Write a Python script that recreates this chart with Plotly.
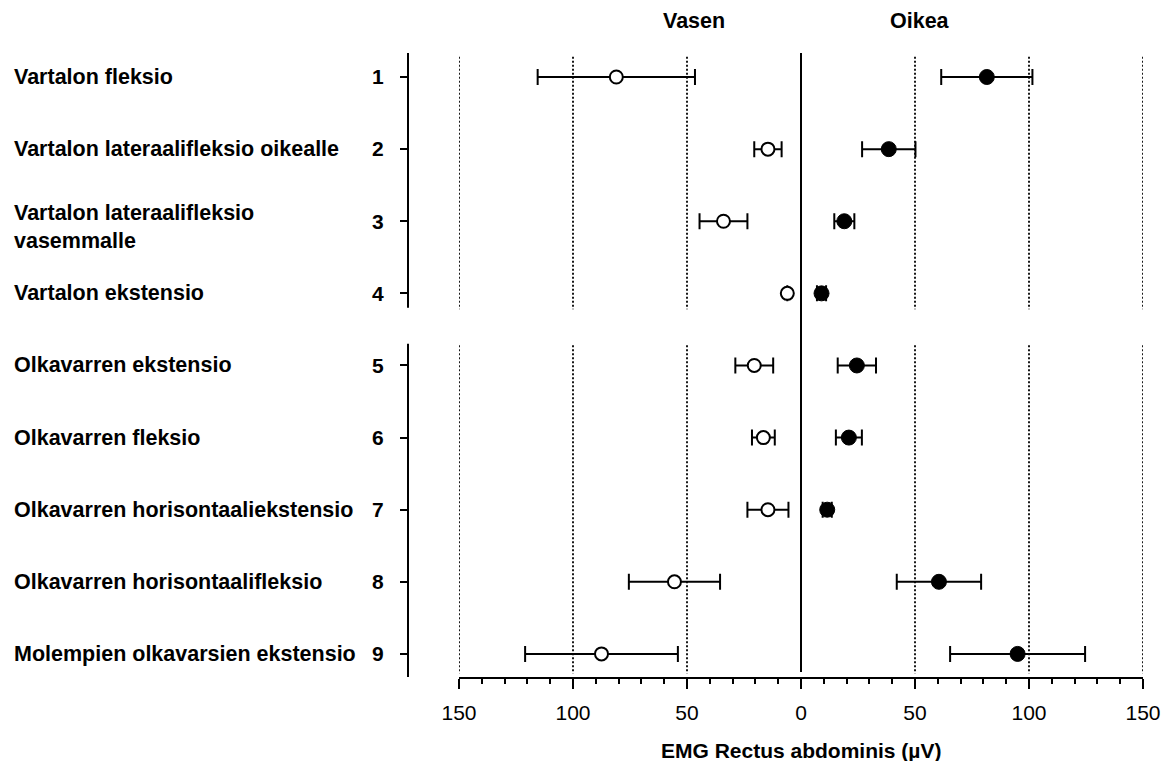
import plotly.graph_objects as go

rows = [1, 2, 3, 4, 5, 6, 7, 8, 9]
labels = [
    "Vartalon fleksio",
    "Vartalon lateraalifleksio oikealle",
    "Vartalon lateraalifleksio<br>vasemmalle",
    "Vartalon ekstensio",
    "Olkavarren ekstensio",
    "Olkavarren fleksio",
    "Olkavarren horisontaaliekstensio",
    "Olkavarren horisontaalifleksio",
    "Molempien olkavarsien ekstensio",
]
# Left side (Vasen) mean and error, µV
left_mean = [81, 14.5, 34, 6, 20.5, 16.5, 14.5, 55.5, 87.5]
left_err = [34.5, 6, 10.5, None, 8.3, 5, 9, 20, 33.5]
# Right side (Oikea) mean and error, µV
right_mean = [81.5, 38.5, 19, 9, 24.5, 21, 11.5, 60.5, 95]
right_err = [20, 11.7, 4.4, 2, 8.4, 5.7, 2, 18.5, 29.6]

tick_vals = [-150, -100, -50, 0, 50, 100, 150]
tick_text = ["150", "100", "50", "0", "50", "100", "150"]
grid_vals = [-150, -100, -50, 50, 100, 150]

# page has an 8px body margin; figure is sized to fit inside the window
W, H = 1156, 753
ML, MR, MT, MB = 0, 21, 45, 84
PW = W - ML - MR
PH = H - MT - MB
x_dom0 = 451 / PW
yaxis_pos = 400 / PW

FONT = "Liberation Sans"

fig = go.Figure()
fig.add_trace(go.Scatter(
    x=[-v for v in left_mean], y=rows, mode="markers",
    marker=dict(symbol="circle", size=13, color="white",
                line=dict(color="black", width=2)),
    error_x=dict(type="data", array=left_err, color="black", thickness=2, width=8),
    showlegend=False, cliponaxis=False,
))
fig.add_trace(go.Scatter(
    x=right_mean, y=rows, mode="markers",
    marker=dict(symbol="circle", size=15, color="black",
                line=dict(color="black", width=1)),
    error_x=dict(type="data", array=right_err, color="black", thickness=2, width=8),
    showlegend=False, cliponaxis=False,
))

shapes = []
# dotted grid lines, broken between the two groups
for gv in grid_vals:
    for (a, b) in [(0.72, 4.22), (4.72, 9.27)]:
        shapes.append(dict(type="line", xref="x", yref="y", x0=gv, x1=gv, y0=a, y1=b,
                           line=dict(color="black", width=1.8, dash="2px,2px"), layer="below"))
# zero line
shapes.append(dict(type="line", xref="x", yref="y", x0=0, x1=0, y0=0.667, y1=9.25,
                   line=dict(color="black", width=2)))
# y axis line segments
for (a, b) in [(0.667, 4.2), (4.7, 9.32)]:
    shapes.append(dict(type="line", xref="paper", yref="y", x0=yaxis_pos, x1=yaxis_pos,
                       y0=a, y1=b, line=dict(color="black", width=2)))

bold = dict(family=FONT, size=21.5, color="black", weight="bold")
annotations = []
for r, lab in zip(rows, labels):
    annotations.append(dict(xref="paper", yref="y", x=4 / PW, y=r + (0.08 if "<br>" in lab else 0),
                            text=lab, showarrow=False, xanchor="left", yanchor="middle",
                            align="left", font=bold))
annotations.append(dict(xref="x", yref="paper", x=-47, y=1 + 32 / PH, text="Vasen",
                        showarrow=False, xanchor="center", yanchor="middle", font=bold))
annotations.append(dict(xref="x", yref="paper", x=52, y=1 + 32 / PH, text="Oikea",
                        showarrow=False, xanchor="center", yanchor="middle", font=bold))
annotations.append(dict(xref="x", yref="paper", x=0, y=-73 / PH,
                        text="EMG Rectus abdominis (µV)", showarrow=False,
                        xanchor="center", yanchor="middle",
                        font=dict(family=FONT, size=21, color="black", weight="bold")))

fig.update_layout(
    width=W, height=H, autosize=False,
    margin=dict(l=ML, r=MR, t=MT, b=MB, pad=0),
    paper_bgcolor="white", plot_bgcolor="white",
    shapes=shapes, annotations=annotations,
    xaxis=dict(domain=[x_dom0, 1], range=[-150, 150], showgrid=False, zeroline=False,
               automargin=False,
               showline=True, linecolor="black", linewidth=2,
               ticks="outside", ticklen=10, tickwidth=2, tickcolor="black",
               tickvals=tick_vals, ticktext=tick_text, ticklabelstandoff=6,
               tickfont=dict(family=FONT, size=21, color="black"),
               minor=dict(dtick=10, tick0=0, ticks="outside", ticklen=5, tickwidth=1.5,
                          tickcolor="black", showgrid=False)),
    yaxis=dict(anchor="free", position=yaxis_pos, range=[9.32, 0.667],
               automargin=False,
               showgrid=False, zeroline=False, showline=False,
               ticks="outside", ticklen=8, tickwidth=2, tickcolor="black",
               tickvals=rows, ticktext=[str(r) for r in rows],
               ticklabelstandoff=12,
               tickfont=dict(family=FONT, size=21, color="black", weight="bold")),
)

fig.write_html("out.html")
